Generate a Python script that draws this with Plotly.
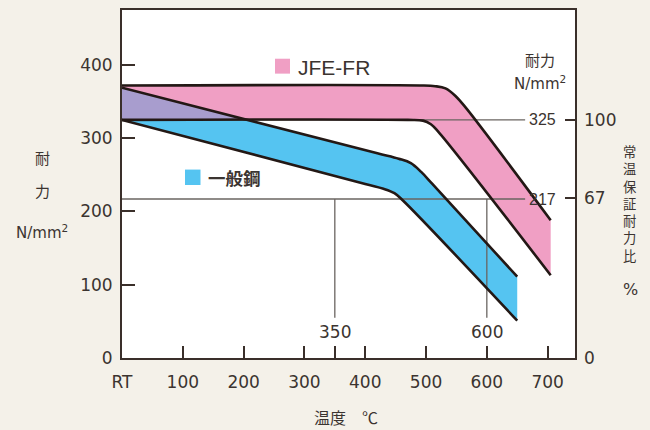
import numpy as np
import plotly.graph_objects as go

# Temperature (°C) and 0.2% proof stress (N/mm²) along each band edge
jfe_upper_t = [0, 490, 515, 532, 548, 565, 705]
jfe_upper_s = [372, 372, 371, 368, 358, 342, 188]
jfe_lower_t = [0, 470, 495, 508, 520, 705]
jfe_lower_s = [325, 325, 324, 319, 309, 113]

gen_upper_t = [0, 420, 455, 475, 492, 510, 650]
gen_upper_s = [369, 279.5, 272, 266, 254, 238, 111]
gen_lower_t = [0, 400, 430, 448, 462, 650]
gen_lower_s = [325, 237.5, 231, 225, 215, 51]

# Guaranteed room-temperature proof stress and its two-thirds level
room_temp_proof = 325      # = 100 %
two_thirds_proof = 217     # = 67 %
ratio_ticks = [0, 67, 100]
ratio_labels = ["0", "67", "100"]
crossing_temps = [350, 600]

x_tickvals = [0, 100, 200, 300, 400, 500, 600, 700]
x_ticktext = ["RT", "100", "200", "300", "400", "500", "600", "700"]
y_tickvals = [0, 100, 200, 300, 400]
y_ticktext = ["0", "100", "200", "300", "400"]

# ---- styling / geometry ----
X_MAX, Y_MAX = 745, 475
GUIDE_END_T = 663          # where the horizontal guides stop
GUIDE_BOTTOM = 55          # lower end of the vertical guides
PINK = "#F09FC4"
BLUE = "#55C4F1"
PURPLE = "#A89DCE"
EDGE = "#231815"
GUIDE = "#6A6461"
AXIS = "#3A2F2A"
TEXT = "#3B3430"
BG = "#F4F1E9"
NUM_FONT = "DejaVu Sans"
JP_FONT = "Noto Sans CJK JP"

L, R, T, B = 122, 75, 8, 72
W, H = 650, 430
PW, PH = W - L - R, H - T - B


def pxx(x):
    return (x - L) / PW


def pxy(y):
    return (H - B - y) / PH


fig = go.Figure()


def band(lo_t, lo_s, up_t, up_s, color, shape="spline"):
    fig.add_trace(go.Scatter(x=lo_t, y=lo_s, mode="lines",
                             line=dict(width=0, shape=shape, color=color),
                             hoverinfo="skip", showlegend=False))
    fig.add_trace(go.Scatter(x=up_t, y=up_s, mode="lines", fill="tonexty",
                             fillcolor=color,
                             line=dict(width=0, shape=shape, color=color),
                             hoverinfo="skip", showlegend=False))


# filled bands
band(jfe_lower_t, jfe_lower_s, jfe_upper_t, jfe_upper_s, PINK)
band(gen_lower_t, gen_lower_s, gen_upper_t, gen_upper_s, BLUE)

# overlap of the two bands at low temperature
x_cross = float(np.interp(room_temp_proof, gen_upper_s[:2][::-1], gen_upper_t[:2][::-1]))
band([0, x_cross], [room_temp_proof, room_temp_proof],
     [0, x_cross], [gen_upper_s[0], room_temp_proof], PURPLE, shape="linear")

# guide lines
for lvl in (room_temp_proof, two_thirds_proof):
    fig.add_trace(go.Scatter(x=[0, GUIDE_END_T], y=[lvl, lvl], mode="lines",
                             line=dict(color=GUIDE, width=1.3),
                             hoverinfo="skip", showlegend=False))
for t in crossing_temps:
    fig.add_trace(go.Scatter(x=[t, t], y=[two_thirds_proof, GUIDE_BOTTOM], mode="lines",
                             line=dict(color=GUIDE, width=1.3),
                             hoverinfo="skip", showlegend=False))

# band outlines
for tt, ss in ((jfe_upper_t, jfe_upper_s), (jfe_lower_t, jfe_lower_s),
               (gen_upper_t, gen_upper_s), (gen_lower_t, gen_lower_s)):
    fig.add_trace(go.Scatter(x=tt, y=ss, mode="lines",
                             line=dict(color=EDGE, width=2.6, shape="spline"),
                             hoverinfo="skip", showlegend=False))

# carrier for the ratio axis
fig.add_trace(go.Scatter(x=[0], y=[0], yaxis="y2", mode="lines",
                         hoverinfo="skip", showlegend=False))

tick_font = dict(family=NUM_FONT, size=17, color=TEXT)

fig.update_layout(
    width=W, height=H,
    margin=dict(l=L, r=R, t=T, b=B, pad=0),
    paper_bgcolor=BG, plot_bgcolor="#FFFFFF",
    showlegend=False,
    xaxis=dict(range=[0, X_MAX], tickvals=x_tickvals, ticktext=x_ticktext,
               ticks="inside", ticklen=12, tickwidth=2, tickcolor=AXIS,
               minor=dict(tickmode="array", tickvals=crossing_temps[:1],
                          ticks="inside", ticklen=12, tickwidth=2, tickcolor=AXIS),
               showline=True, linewidth=2, linecolor=AXIS, mirror=True,
               showgrid=False, zeroline=False, tickfont=tick_font,
               ticklabelstandoff=8, fixedrange=True),
    yaxis=dict(range=[0, Y_MAX], tickvals=y_tickvals, ticktext=y_ticktext,
               ticks="inside", ticklen=13, tickwidth=2, tickcolor=AXIS,
               showline=True, linewidth=2, linecolor=AXIS, mirror=True,
               showgrid=False, zeroline=False, tickfont=tick_font,
               ticklabelstandoff=4, fixedrange=True),
    yaxis2=dict(overlaying="y", side="right",
                range=[0, Y_MAX / room_temp_proof * 100],
                tickvals=ratio_ticks, ticktext=ratio_labels,
                ticks="inside", ticklen=10, tickwidth=2, tickcolor=AXIS,
                showline=False, showgrid=False, zeroline=False,
                tickfont=tick_font, ticklabelstandoff=8, fixedrange=True),
)

ann = []


def label(text, x, y, size, family=JP_FONT, xanchor="center", yanchor="middle",
          xref="paper", yref="paper", color=TEXT, weight=None):
    f = dict(family=family, size=size, color=color)
    if weight:
        f["weight"] = weight
    ann.append(dict(text=text, x=x, y=y, xref=xref, yref=yref, showarrow=False,
                    xanchor=xanchor, yanchor=yanchor, font=f))


# left axis title
label("耐", pxx(42), pxy(156), 15)
label("力", pxx(42), pxy(190), 15)
label("N/mm<sup>2</sup>", pxx(42), pxy(231), 15, family=NUM_FONT)

# bottom axis title
label("温度　℃", pxx(346), pxy(417), 16)

# right-hand labels
label("耐力", pxx(540), pxy(58), 15)
label("N/mm<sup>2</sup>", pxx(540), pxy(81), 15, family=NUM_FONT)
label("<br>".join("常温保証耐力比"), pxx(630), pxy(203), 13.3)
label("%", pxx(630), pxy(289), 16, family=NUM_FONT)

# guide values
for lvl in (room_temp_proof, two_thirds_proof):
    label(str(lvl), pxx(558), lvl, 16, family="Liberation Sans",
          xanchor="right", yref="y")
for t in crossing_temps:
    label(str(t), t, 35, 17, family=NUM_FONT, xref="x", yref="y")

# legend keys
label("JFE-FR", pxx(296), pxy(66), 21, family="Liberation Sans", xanchor="left")
label("一般鋼", pxx(206), pxy(176), 17.5, xanchor="left", weight="bold")

shapes = [
    dict(type="rect", xref="paper", yref="paper", x0=pxx(275), x1=pxx(290),
         y0=pxy(57), y1=pxy(72), fillcolor=PINK, line=dict(width=0)),
    dict(type="rect", xref="paper", yref="paper", x0=pxx(185), x1=pxx(200.5),
         y0=pxy(168.5), y1=pxy(184), fillcolor=BLUE, line=dict(width=0)),
]

fig.update_layout(annotations=ann, shapes=shapes)
fig.write_html("out.html")
